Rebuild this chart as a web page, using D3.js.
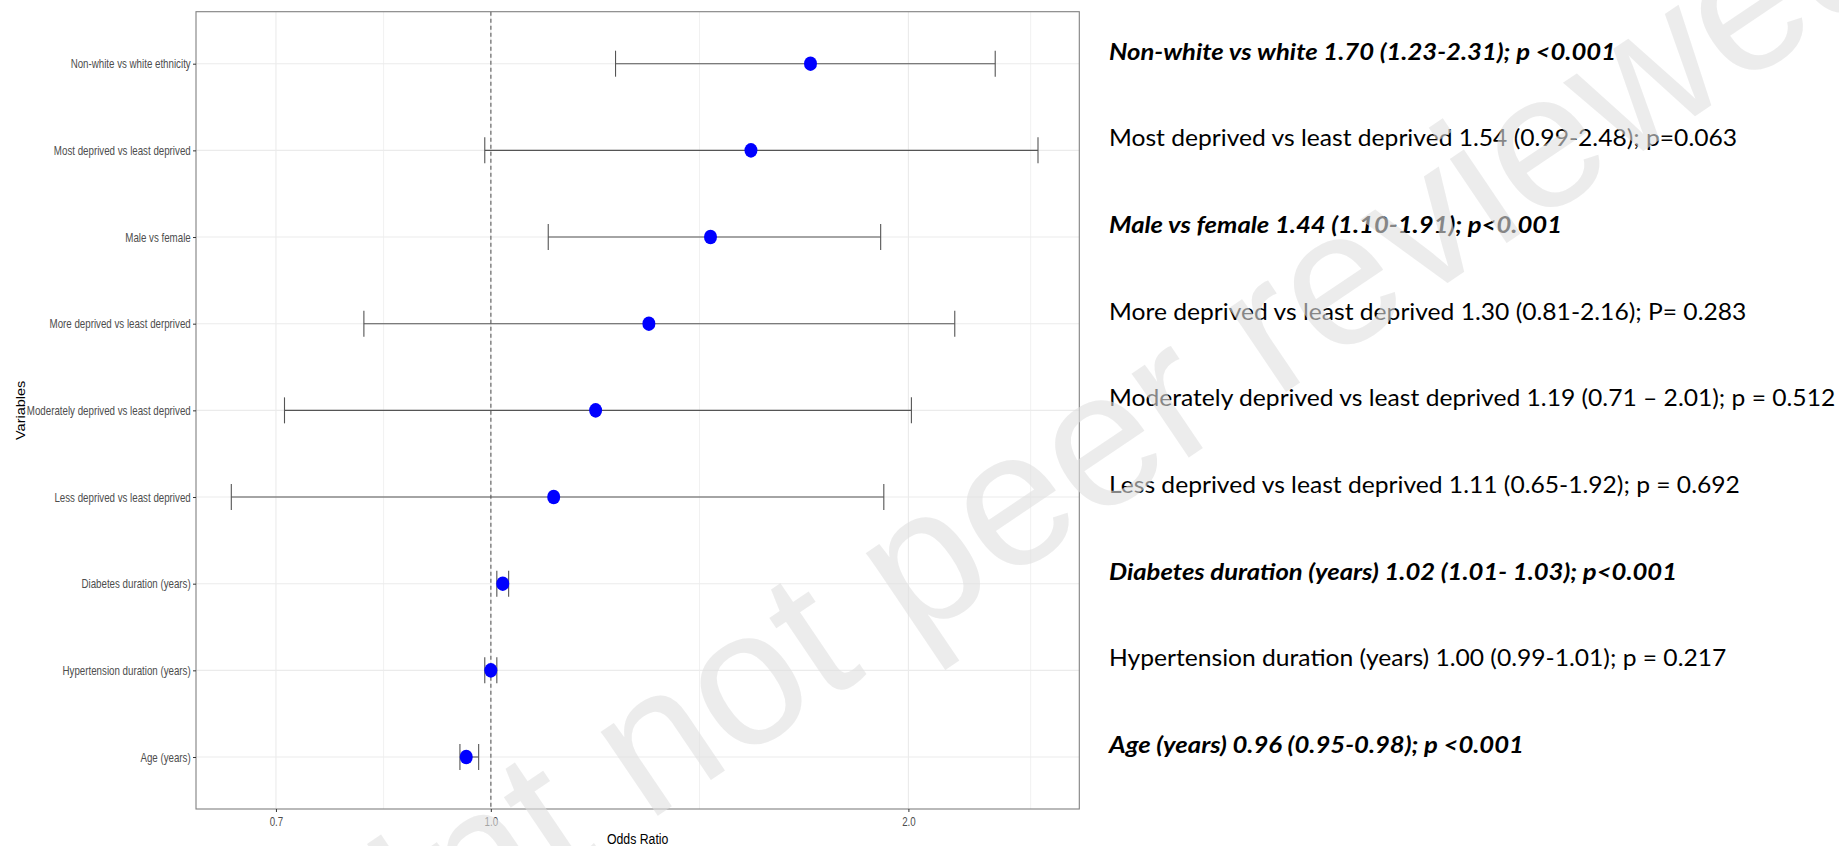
<!DOCTYPE html>
<html>
<head>
<meta charset="utf-8">
<script src="https://cdn.jsdelivr.net/npm/d3@7"></script>
<style>
  html, body { margin: 0; padding: 0; background: #ffffff; }
  svg { display: block; }
</style>
</head>
<body>
<svg id="chart" width="1839" height="846"></svg>
<script>
// Adjusted odds ratios with 95% confidence intervals, listed top row first
const variables = [
  "Non-white vs white ethnicity",
  "Most deprived vs least deprived",
  "Male vs female",
  "More deprived vs least derprived",
  "Moderately deprived vs least deprived",
  "Less deprived vs least deprived",
  "Diabetes duration (years)",
  "Hypertension duration (years)",
  "Age (years)"
];
const oddsRatio = [1.70, 1.54, 1.44, 1.30, 1.19, 1.11, 1.02, 1.00, 0.96];
const ciLower   = [1.23, 0.99, 1.10, 0.81, 0.71, 0.65, 1.01, 0.99, 0.95];
const ciUpper   = [2.31, 2.48, 1.91, 2.16, 2.01, 1.92, 1.03, 1.01, 0.98];

// Result summaries printed beside each row
const resultText = [
  "Non-white vs white 1.70 (1.23-2.31); p <0.001",
  "Most deprived vs least deprived 1.54 (0.99-2.48); p=0.063",
  "Male vs female 1.44 (1.10-1.91); p<0.001",
  "More deprived vs least deprived 1.30 (0.81-2.16); P= 0.283",
  "Moderately deprived vs least deprived 1.19 (0.71 \u2013 2.01); p = 0.512",
  "Less deprived vs least deprived 1.11 (0.65-1.92); p = 0.692",
  "Diabetes duration (years) 1.02 (1.01- 1.03); p<0.001",
  "Hypertension duration (years) 1.00 (0.99-1.01); p = 0.217",
  "Age (years) 0.96 (0.95-0.98); p <0.001"
];
const significant = [true, false, true, false, false, false, true, false, true];

// Log-scaled odds ratio axis
const xTicks = [0.7, 1.0, 2.0];
const xMinorTicks = [0.837, 1.414, 2.45];
const xLimits = [0.613, 2.656];
const referenceValue = 1.0;

const rows = variables.map((v, i) => ({
  name: v, or: oddsRatio[i], lo: ciLower[i], hi: ciUpper[i],
  text: resultText[i], bold: significant[i]
}));

const svg = d3.select("#chart");
const panel = { left: 196, top: 11.7, right: 1079.3, bottom: 809 };
const condensed = 0.78;

const x = d3.scaleLog().domain(xLimits).range([panel.left, panel.right]);
const y = d3.scalePoint().domain(variables).range([panel.top, panel.bottom]).padding(0.6);

// Grid lines
const grid = svg.append("g");
grid.selectAll("line.minor").data(xMinorTicks).join("line")
  .attr("class", "minor")
  .attr("x1", d => x(d)).attr("x2", d => x(d))
  .attr("y1", panel.top).attr("y2", panel.bottom)
  .attr("stroke", "#f1f1f1").attr("stroke-width", 1);
grid.selectAll("line.vmajor").data(xTicks).join("line")
  .attr("class", "vmajor")
  .attr("x1", d => x(d)).attr("x2", d => x(d))
  .attr("y1", panel.top).attr("y2", panel.bottom)
  .attr("stroke", "#ebebeb").attr("stroke-width", 1.1);
grid.selectAll("line.hmajor").data(variables).join("line")
  .attr("class", "hmajor")
  .attr("x1", panel.left).attr("x2", panel.right)
  .attr("y1", d => y(d)).attr("y2", d => y(d))
  .attr("stroke", "#ebebeb").attr("stroke-width", 1.1);

// Reference line at OR = 1
svg.append("line")
  .attr("x1", x(referenceValue)).attr("x2", x(referenceValue))
  .attr("y1", panel.top).attr("y2", panel.bottom)
  .attr("stroke", "#8a8a8a").attr("stroke-width", 1.6)
  .attr("stroke-dasharray", "4,3");

// Confidence interval bars
const capHalf = 13;
const bars = svg.append("g").attr("stroke", "#555555").attr("stroke-width", 1.1);
bars.selectAll("line.ci").data(rows).join("line")
  .attr("class", "ci")
  .attr("x1", d => x(d.lo)).attr("x2", d => x(d.hi))
  .attr("y1", d => y(d.name)).attr("y2", d => y(d.name));
bars.selectAll("line.capLo").data(rows).join("line")
  .attr("class", "capLo")
  .attr("x1", d => x(d.lo)).attr("x2", d => x(d.lo))
  .attr("y1", d => y(d.name) - capHalf).attr("y2", d => y(d.name) + capHalf);
bars.selectAll("line.capHi").data(rows).join("line")
  .attr("class", "capHi")
  .attr("x1", d => x(d.hi)).attr("x2", d => x(d.hi))
  .attr("y1", d => y(d.name) - capHalf).attr("y2", d => y(d.name) + capHalf);

// Point estimates
svg.append("g").selectAll("ellipse").data(rows).join("ellipse")
  .attr("cx", d => x(d.or)).attr("cy", d => y(d.name))
  .attr("rx", 6.5).attr("ry", 7.3)
  .attr("fill", "#0000ff");

// Panel border
svg.append("rect")
  .attr("x", panel.left).attr("y", panel.top)
  .attr("width", panel.right - panel.left).attr("height", panel.bottom - panel.top)
  .attr("fill", "none").attr("stroke", "#808080").attr("stroke-width", 1.1);

// Axes
const xAxis = svg.append("g")
  .attr("transform", `translate(0,${panel.bottom})`)
  .call(d3.axisBottom(x).tickValues(xTicks).tickFormat(d3.format(".1f")).tickSize(3).tickPadding(4.7));
const yAxis = svg.append("g")
  .attr("transform", `translate(${panel.left},0)`)
  .call(d3.axisLeft(y).tickSize(3).tickPadding(2.3));
[xAxis, yAxis].forEach(a => {
  a.select(".domain").remove();
  a.selectAll(".tick line").attr("stroke", "#333333").attr("stroke-width", 1);
  a.selectAll(".tick text")
    .attr("font-family", "'Liberation Sans', Arial, sans-serif")
    .attr("font-size", 12.5)
    .attr("fill", "#4d4d4d")
    .attr("transform", `scale(${condensed},1)`);
});
yAxis.selectAll(".tick text").attr("x", -(3 + 2.3) / condensed);

// Axis titles
svg.append("text")
  .attr("transform", `translate(${(panel.left + panel.right) / 2},844) scale(0.82,1)`)
  .attr("text-anchor", "middle")
  .attr("font-family", "'Liberation Sans', Arial, sans-serif")
  .attr("font-size", 15).attr("fill", "#000000")
  .text("Odds Ratio");
svg.append("text")
  .attr("transform", `translate(21,${(panel.top + panel.bottom) / 2}) scale(0.82,1) rotate(-90)`)
  .attr("text-anchor", "middle")
  .attr("dominant-baseline", "central")
  .attr("font-family", "'Liberation Sans', Arial, sans-serif")
  .attr("font-size", 14.5).attr("fill", "#000000")
  .text("Variables");

// Result summaries to the right of the panel
svg.append("g").selectAll("text").data(rows).join("text")
  .attr("transform", d => `translate(1109,${y(d.name) - 4}) scale(${d.bold ? 1.14 : 1.095},1)`)
  .attr("font-family", "Lato, 'Open Sans', sans-serif")
  .attr("font-size", 22.5)
  .attr("font-weight", d => d.bold ? 700 : 400)
  .attr("font-style", d => d.bold ? "italic" : "normal")
  .attr("fill", "#000000")
  .text(d => d.text);

// Diagonal watermark across the page
const markSize = 192;
const mark = svg.append("g").attr("pointer-events", "none");
const markText = mark.append("text")
  .attr("x", 0).attr("y", 0)
  .attr("font-family", "'Liberation Sans', Arial, sans-serif")
  .attr("font-size", markSize)
  .attr("fill", "#e0e0e0")
  .attr("fill-opacity", 0.6)
  .text("Preprint not peer reviewed");
const nIndex = "Preprint ".length;
const box = markText.node().getExtentOfChar(nIndex);
const cx = box.x + box.width / 2;
const cy = -0.26 * markSize;
mark.attr("transform", `translate(663,752) rotate(-34) translate(${-cx},${-cy})`);
</script>
</body>
</html>
